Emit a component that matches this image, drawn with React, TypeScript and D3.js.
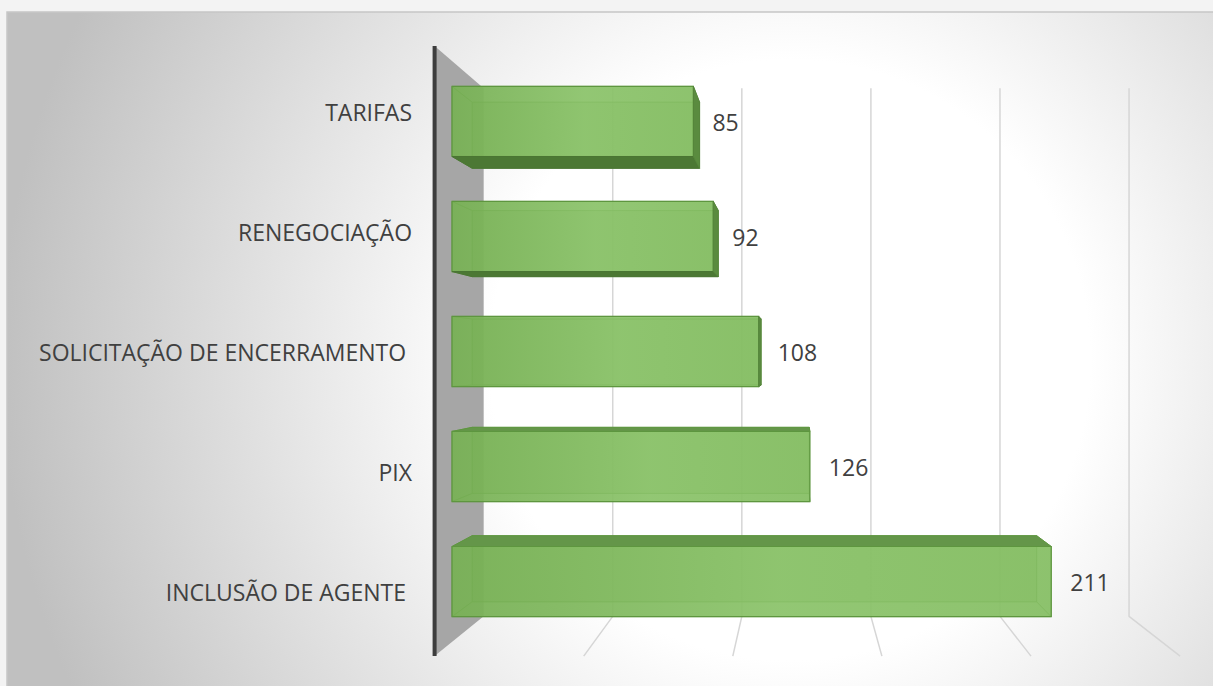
import React from "react";
import * as d3 from "d3";

const categories = [
  "TARIFAS",
  "RENEGOCIAÇÃO",
  "SOLICITAÇÃO DE ENCERRAMENTO ",
  "PIX",
  "INCLUSÃO DE AGENTE ",
];
const values = [85, 92, 108, 126, 211];
const gridTicks = [0, 50, 100, 150, 200, 250];

const W = 1213;
const H = 686;

// simple one-point perspective, front bar plane has scale 1
const VP = { x: 800, y: 360 };
const D_WALL = 0.909;
const D_BACK = 0.942;
const D_FRONT = 1;
const D_FLOOR = 1.05;
const D_LABEL = 1.043;
const Y_TOP = 61;
const Y_FLOOR = 642;

type Pt = [number, number];
const proj = (X: number, Y: number, s: number): Pt => [
  VP.x + (X - VP.x) * s,
  VP.y + (Y - VP.y) * s,
];
const poly = (pts: Pt[]) => pts.map((p) => p.join(",")).join(" ");

const FONT = "'Open Sans', sans-serif";

export default function App() {
  const x = d3.scaleLinear().domain([0, 250]).range([452, 1162]);
  const y = d3
    .scaleBand()
    .domain(categories)
    .range([Y_TOP, Y_FLOOR])
    .paddingInner(0.39)
    .paddingOuter(0.22);
  const bw = y.bandwidth();
  const X0 = x(0);

  const wall = [
    proj(X0, Y_TOP, D_FLOOR),
    proj(X0, Y_TOP, D_WALL),
    proj(X0, Y_FLOOR, D_WALL),
    proj(X0, Y_FLOOR, D_FLOOR),
  ];

  return (
    <svg
      width={W}
      height={H}
      style={{ position: "absolute", left: 0, top: 0 }}
    >
      <defs>
        <radialGradient id="bg" gradientUnits="userSpaceOnUse" cx={790} cy={360} r={790}>
          <stop offset="0" stopColor="#ffffff" />
          <stop offset="0.38" stopColor="#ffffff" />
          <stop offset="1" stopColor="#c0c0c0" />
        </radialGradient>
        <linearGradient id="barFront" x1="0" x2="1" y1="0" y2="0">
          <stop offset="0" stopColor="#76af53" />
          <stop offset="0.55" stopColor="#8bc36a" />
          <stop offset="1" stopColor="#85be63" />
        </linearGradient>
      </defs>

      <rect width={W} height={H} fill="#f3f3f3" />
      <rect x={7} y={12} width={W} height={H} fill="url(#bg)" stroke="#c6c6c6" strokeWidth={1.5} />

      {/* side wall */}
      <polygon points={poly(wall)} fill="#a6a6a6" />

      {/* gridlines: back wall + floor */}
      {gridTicks
        .filter((t) => t > 0)
        .map((t) => {
          const pts = [
            proj(x(t), Y_TOP, D_WALL),
            proj(x(t), Y_FLOOR, D_WALL),
            proj(x(t), Y_FLOOR, D_FLOOR),
          ];
          return (
            <polyline
              key={t}
              points={poly(pts)}
              fill="none"
              stroke="#d6d6d6"
              strokeWidth={1.5}
            />
          );
        })}

      <line
        x1={wall[0][0]}
        y1={wall[0][1]}
        x2={wall[3][0]}
        y2={wall[3][1]}
        stroke="#3d3d3d"
        strokeWidth={4}
      />

      {/* bars */}
      {categories.map((c, i) => {
        const X1 = x(values[i]);
        const Yt = y(c)!;
        const Yb = Yt + bw;
        const F = [proj(X0, Yt, D_FRONT), proj(X1, Yt, D_FRONT), proj(X1, Yb, D_FRONT), proj(X0, Yb, D_FRONT)];
        const B = [proj(X0, Yt, D_BACK), proj(X1, Yt, D_BACK), proj(X1, Yb, D_BACK), proj(X0, Yb, D_BACK)];
        const top = [F[0], F[1], B[1], B[0]];
        const bottom = [F[3], F[2], B[2], B[3]];
        const right = [F[1], B[1], B[2], F[2]];
        const left = [F[0], B[0], B[3], F[3]];
        const topVis = VP.y < Yt;
        const botVis = VP.y > Yb;
        const rightVis = VP.x > X1;
        const hidden = [left];
        if (!topVis) hidden.push(top);
        if (!botVis) hidden.push(bottom);
        if (!rightVis) hidden.push(right);
        const stroke = "#5e963f";
        return (
          <g key={c}>
            <polygon points={poly(B)} fill="#7db65b" fillOpacity={0.7} stroke={stroke} strokeOpacity={0.6} />
            {hidden.map((f, k) => (
              <polygon key={k} points={poly(f)} fill="#8dc56d" fillOpacity={0.55} stroke={stroke} strokeOpacity={0.6} />
            ))}
            <polygon points={poly(F)} fill="url(#barFront)" fillOpacity={0.86} stroke={stroke} strokeWidth={1.2} />
            {topVis && <polygon points={poly(top)} fill="#649649" stroke={stroke} />}
            {botVis && <polygon points={poly(bottom)} fill="#4c7834" stroke="#4a7533" />}
            {rightVis && <polygon points={poly(right)} fill="#5a8b3f" stroke="#55853b" />}
            <text
              x={F[1][0] + 19}
              y={Yt + bw / 2 + 1.5}
              dy="0.35em"
              fontFamily={FONT}
              fontSize={23}
              fill="#404040"
            >
              {values[i]}
            </text>
          </g>
        );
      })}

      {/* category labels */}
      {categories.map((c) => {
        const [lx, ly] = proj(X0, y(c)! + bw / 2, D_LABEL);
        return (
          <text
            key={c}
            x={lx - 25}
            y={ly + 2}
            dy="0.35em"
            textAnchor="end"
            xmlSpace="preserve"
            style={{ whiteSpace: "pre" }}
            fontFamily={FONT}
            fontSize={23}
            fill="#404040"
          >
            {c}
          </text>
        );
      })}
    </svg>
  );
}
